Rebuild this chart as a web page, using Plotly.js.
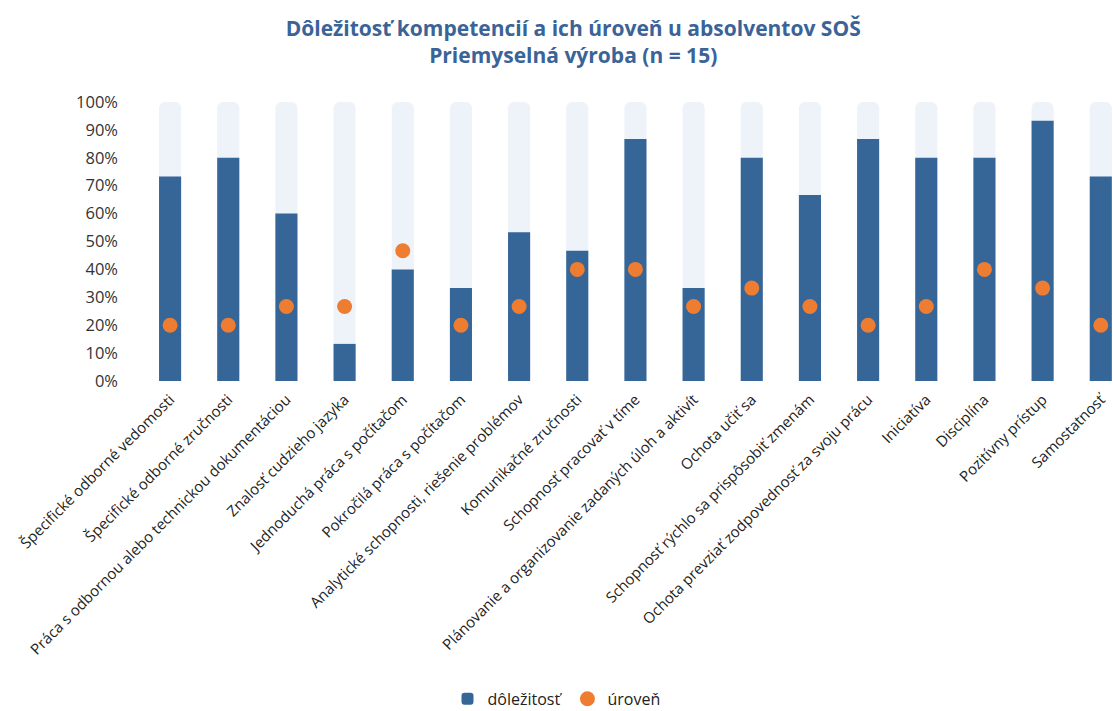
<!DOCTYPE html>
<html>
<head>
<meta charset="utf-8">
<script src="https://cdn.plot.ly/plotly-3.0.1.min.js"></script>
<style>html,body{margin:0;padding:0;background:#fff;}#chart{width:1113px;height:711px;}</style>
</head>
<body>
<div id="chart"></div>
<script>
const categories = [
  "Špecifické odborné vedomosti",
  "Špecifické odborné zručnosti",
  "Práca s odbornou alebo technickou dokumentáciou",
  "Znalosť cudzieho jazyka",
  "Jednoduchá práca s počítačom",
  "Pokročilá práca s počítačom",
  "Analytické schopnosti, riešenie problémov",
  "Komunikačné zručnosti",
  "Schopnosť pracovať v tíme",
  "Plánovanie a organizovanie zadaných úloh a aktivít",
  "Ochota učiť sa",
  "Schopnosť rýchlo sa prispôsobiť zmenám",
  "Ochota prevziať zodpovednosť za svoju prácu",
  "Iniciatíva",
  "Disciplína",
  "Pozitívny prístup",
  "Samostatnosť"
];
const importance = [73.3, 80, 60, 13.3, 40, 33.3, 53.3, 46.7, 86.7, 33.3, 80, 66.7, 86.7, 80, 80, 93.3, 73.3];
const level = [20, 20, 26.7, 26.7, 46.7, 20, 26.7, 40, 40, 26.7, 33.3, 26.7, 20, 26.7, 40, 33.3, 20];
const fullScale = categories.map(() => 100);
const yTicks = [0,10,20,30,40,50,60,70,80,90,100];
const yTickLabels = yTicks.map(v => v + "%");

const traces = [
  {type:"bar", x:categories, y:fullScale, name:"bg", showlegend:false, hoverinfo:"skip",
   marker:{color:"#EEF2F9", cornerradius:6}, width:0.38},
  {type:"bar", x:categories, y:importance, name:"dôležitosť",
   marker:{color:"#366598", cornerradius:6}, width:0.38},
  {type:"scatter", mode:"markers", x:categories, y:level, name:"úroveň",
   marker:{color:"#EE7D31", size:15, symbol:"circle"}}
];

const layout = {
  width:1113, height:711,
  paper_bgcolor:"#fff", plot_bgcolor:"#fff",
  font:{family:"Open Sans, sans-serif", color:"#333", size:14},
  title:{text:"<b>Dôležitosť kompetencií a ich úroveň u absolventov SOŠ<br>Priemyselná výroba (n = 15)</b>",
         font:{family:"Open Sans, sans-serif", size:21, color:"#3A6398"},
         x:0.515, xanchor:"center", y:0.95, yanchor:"top"},
  barmode:"overlay",
  margin:{l:141, r:0, t:102, b:330},
  xaxis:{range:[-0.5,16.21], tickangle:-45, showgrid:false, zeroline:false, showline:false,
         ticks:"", tickfont:{size:15, color:"#222"}, ticklabelstandoff:6},
  yaxis:{range:[0,100], tickvals:yTicks, ticktext:yTickLabels, showgrid:false, zeroline:false,
         showline:false, ticks:"", tickfont:{size:16.5, color:"#333"}, ticklabelstandoff:22},
  legend:{orientation:"h", xref:"container", yref:"container", x:0.5, xanchor:"center",
          y:0.017, yanchor:"middle", font:{size:16, color:"#222"}}
};

Plotly.newPlot("chart", traces, layout, {displayModeBar:false});
</script>
</body>
</html>
